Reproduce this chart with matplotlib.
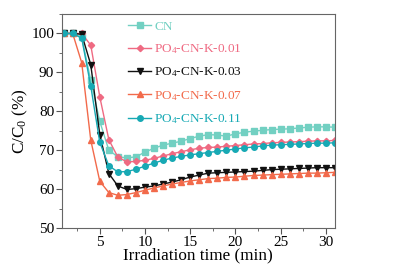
import numpy as np
import matplotlib
matplotlib.use('Agg')
import matplotlib.pyplot as plt
from matplotlib.ticker import MultipleLocator

plt.rcParams['font.family'] = 'Liberation Serif'
plt.rcParams['mathtext.fontset'] = 'custom'
plt.rcParams['mathtext.rm'] = 'Liberation Serif'
plt.rcParams['mathtext.it'] = 'Liberation Serif:italic'

# tiempo de irradiacion (min)
t = list(range(1, 32))

cn = [100, 100, 99, 88, 77.4, 70, 68.3, 68, 68.3, 69.5, 70.5, 71.3, 71.8, 72.3, 73, 73.6,
      74, 73.9, 73.6, 74.2, 74.6, 74.9, 75.1, 75.3, 75.4, 75.5, 75.7, 75.9, 76, 76, 75.9]
k001 = [100, 100, 100, 97, 83.7, 72.7, 68.2, 67, 67.1, 67.4, 67.9, 68.5, 69.1, 69.6, 70.1, 70.5,
        70.7, 70.8, 71, 71.2, 71.4, 71.6, 71.7, 71.9, 72, 72.1, 72.2, 72.3, 72.4, 72.4, 72.5]
k003 = [100, 100, 99.8, 92, 74, 64, 60.8, 59.9, 60.1, 60.5, 60.8, 61.3, 61.8, 62.4, 63.1, 63.6,
        64.1, 64.2, 64.3, 64.4, 64.5, 64.6, 64.8, 65, 65.1, 65.2, 65.3, 65.4, 65.5, 65.5, 65.5]
k007 = [100, 100, 92.5, 72.6, 62, 59.1, 58.4, 58.6, 59.1, 59.7, 60.3, 60.8, 61.3, 61.7, 62.1, 62.4,
        62.7, 62.8, 63, 63.1, 63.3, 63.5, 63.6, 63.7, 63.8, 63.9, 64, 64.1, 64.1, 64.2, 64.3]
k011 = [100, 100, 98.8, 86.5, 72, 66, 64.4, 64.5, 65.1, 65.9, 66.7, 67.4, 68, 68.4, 68.8, 69.1,
        69.4, 69.7, 70, 70.3, 70.6, 70.8, 71.1, 71.3, 71.4, 71.5, 71.6, 71.7, 71.8, 71.8, 71.9]

series = [
    (cn, 'CN', '#72d0c2', 's'),
    (k001, r'PO$_4$-CN-K-0.01', '#ef6a82', 'D'),
    (k003, r'PO$_4$-CN-K-0.03', '#111111', 'v'),
    (k007, r'PO$_4$-CN-K-0.07', '#f26a4b', '^'),
    (k011, r'PO$_4$-CN-K-0.11', '#17a9b4', 'o'),
]

fig = plt.figure(figsize=(4.04, 2.75), dpi=100)
ax = fig.add_axes([0.153, 0.171, 0.676, 0.778])

for y, lab, col, mk in series:
    ms = 3.2 if mk == 'D' else 4
    ax.plot(t, y, color=col, marker=mk, markersize=ms, linewidth=1, label=lab)

ax.set_xlim(0.8, 31)
ax.set_ylim(50, 105)
ax.xaxis.set_major_locator(MultipleLocator(5))
ax.xaxis.set_minor_locator(MultipleLocator(2.5))
ax.yaxis.set_major_locator(MultipleLocator(10))
ax.yaxis.set_minor_locator(MultipleLocator(5))
ax.tick_params(which='both', direction='out', colors='#555555', labelcolor='black',
               labelsize=11, pad=1.5)
ax.tick_params(which='major', length=4)
ax.tick_params(which='minor', length=2.5)
for s in ax.spines.values():
    s.set_color('#666666')

ax.set_xlabel('Irradiation time (min)', fontsize=12.3, labelpad=-1)
ax.set_ylabel(r'C/C$_0$ (%)', fontsize=12.3, labelpad=1)

leg = ax.legend(loc='upper left', bbox_to_anchor=(0.2, 1.025), frameon=False, fontsize=9.5,
                handlelength=1.7, handletextpad=0.25, labelspacing=0.72)
for txt, (y, lab, col, mk) in zip(leg.get_texts(), series):
    txt.set_color(col)

fig.savefig('out.png', dpi=100)
